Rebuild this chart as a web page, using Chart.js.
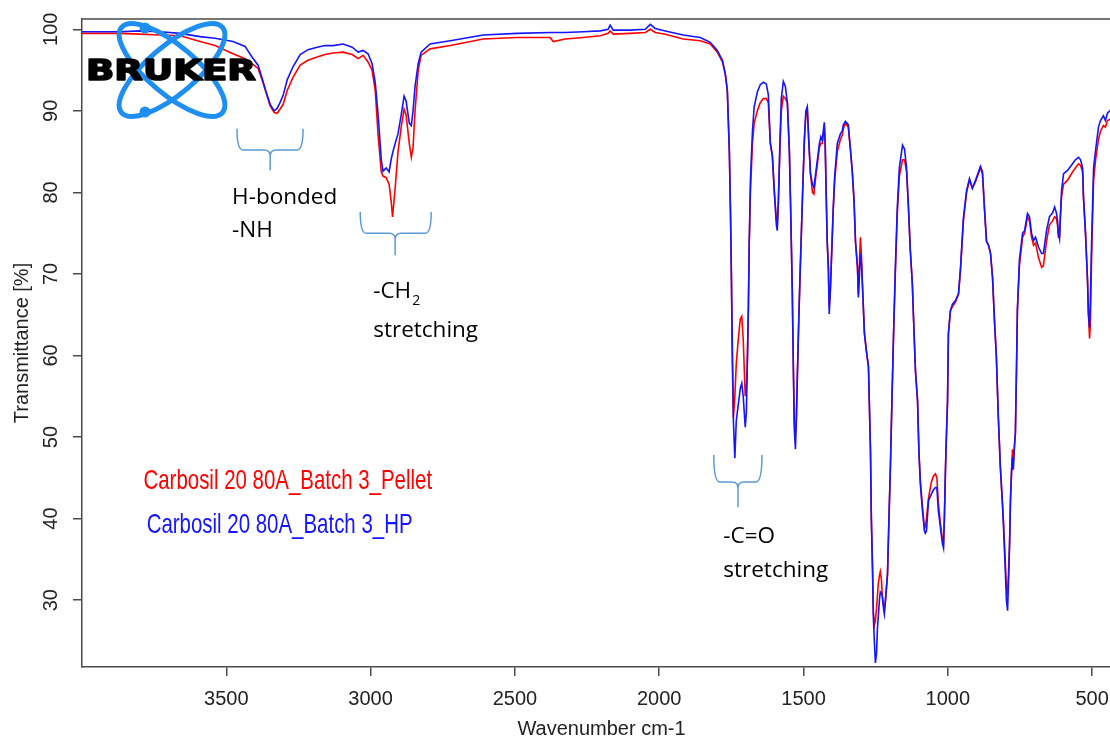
<!DOCTYPE html>
<html>
<head>
<meta charset="utf-8">
<title>FTIR spectrum</title>
<script src="https://cdn.jsdelivr.net/npm/chart.js@4.4.1/dist/chart.umd.min.js"></script>
<style>
html, body { margin: 0; padding: 0; overflow: hidden; background: #fff; }
canvas { display: block; }
</style>
</head>
<body>
<canvas id="irChart" width="1121" height="740"></canvas>
<script>
// wavenumber (cm-1) of every sampled point, shared by both spectra
var wavenumbers = [
    4000, 3938, 3868, 3799, 3730, 3660, 3591, 3539, 3477, 3435,
    3411, 3390, 3376, 3362, 3348, 3334, 3324, 3314, 3303, 3289,
    3269, 3244, 3217, 3185, 3158, 3130, 3095, 3064, 3043, 3026,
    3009, 2995, 2984, 2974, 2963, 2957, 2946, 2936, 2929, 2924,
    2915, 2905, 2894, 2884, 2877, 2866, 2859, 2853, 2846, 2835,
    2825, 2794, 2724, 2610, 2492, 2378, 2367, 2326, 2263, 2204,
    2177, 2170, 2159, 2100, 2048, 2031, 2014, 1979, 1917, 1858,
    1823, 1799, 1781, 1771, 1764, 1757, 1753, 1750, 1747, 1743,
    1738, 1733, 1726, 1719, 1714, 1709, 1702, 1698, 1695, 1691,
    1688, 1684, 1677, 1671, 1660, 1650, 1639, 1629, 1622, 1615,
    1608, 1601, 1594, 1591, 1587, 1582, 1577, 1570, 1563, 1556,
    1549, 1544, 1539, 1535, 1532, 1528, 1525, 1521, 1516, 1511,
    1504, 1497, 1492, 1487, 1482, 1476, 1469, 1464, 1459, 1452,
    1445, 1440, 1435, 1428, 1425, 1421, 1418, 1414, 1411, 1407,
    1404, 1397, 1392, 1383, 1372, 1366, 1362, 1355, 1345, 1338,
    1331, 1325, 1320, 1313, 1310, 1306, 1303, 1299, 1296, 1289,
    1282, 1275, 1268, 1265, 1261, 1258, 1254, 1251, 1247, 1244,
    1241, 1237, 1234, 1230, 1227, 1223, 1220, 1216, 1209, 1204,
    1199, 1194, 1188, 1182, 1175, 1168, 1157, 1150, 1143, 1136,
    1130, 1123, 1119, 1112, 1105, 1100, 1095, 1088, 1081, 1078,
    1074, 1067, 1057, 1050, 1043, 1038, 1033, 1026, 1019, 1015,
    1012, 1008, 1005, 1001, 998, 991, 984, 974, 963, 956,
    946, 935, 925, 915, 904, 894, 887, 880, 873, 866,
    859, 852, 845, 838, 832, 825, 818, 811, 807, 800,
    797, 793, 790, 786, 783, 779, 776, 773, 769, 766,
    762, 759, 752, 741, 734, 724, 717, 710, 703, 696,
    686, 675, 669, 658, 648, 637, 630, 624, 620, 617,
    613, 610, 606, 599, 585, 568, 558, 547, 540, 533,
    530, 523, 516, 513, 509, 506, 502, 495, 488, 478,
    471, 461, 454, 447, 436
];

// transmittance [%], Carbosil 20 80A batch 3 pellet (red)
var pelletT = [
    99.5, 99.5, 99.5, 99.4, 99.3, 99.2, 98.5, 98.0, 97.0, 96.4,
    95.8, 95.2, 93.8, 92.2, 90.6, 89.8, 89.7, 90.2, 90.8, 92.5,
    94.1, 95.6, 96.2, 96.6, 96.9, 97.1, 97.2, 96.9, 96.4, 96.8,
    96.0, 95.0, 92.5, 87.0, 82.5, 82.0, 81.8, 81.0, 79.0, 77.0,
    80.5, 85.0, 88.0, 90.2, 89.5, 86.0, 84.3, 85.5, 90.0, 95.0,
    96.8, 97.6, 98.0, 98.8, 99.0, 99.0, 98.5, 98.8, 99.0, 99.2,
    99.5, 99.8, 99.4, 99.5, 99.6, 100.0, 99.6, 99.4, 98.8, 98.6,
    98.2, 97.2, 96.0, 94.5, 92.5, 85.0, 77.4, 70.0, 60.0, 52.4,
    55.0, 59.0, 62.0, 64.5, 64.8, 62.0, 55.0, 56.0, 58.6, 66.0,
    74.0, 80.0, 86.0, 88.5, 90.0, 91.0, 91.5, 91.5, 91.0, 86.0,
    84.5, 80.0, 76.5, 76.0, 79.0, 85.0, 90.0, 91.8, 91.5, 91.0,
    85.0, 77.0, 68.0, 58.0, 52.0, 50.4, 52.0, 58.0, 65.0, 71.0,
    79.0, 86.5, 89.5, 90.2, 86.5, 82.3, 80.0, 79.8, 81.5, 83.5,
    85.5, 86.0, 86.0, 88.0, 86.0, 79.0, 74.0, 70.8, 66.0, 68.0,
    71.0, 78.0, 81.5, 85.0, 86.5, 87.0, 87.8, 88.5, 88.0, 85.5,
    82.5, 79.0, 74.0, 70.8, 67.5, 71.5, 74.5, 72.0, 68.8, 62.7,
    60.5, 58.6, 48.3, 40.0, 34.0, 28.5, 27.0, 27.5, 29.0, 30.5,
    32.0, 33.0, 33.5, 32.5, 30.5, 29.5, 28.8, 30.0, 33.2, 40.0,
    46.3, 54.0, 62.7, 70.0, 77.5, 82.0, 84.0, 84.0, 82.5, 77.8,
    72.9, 68.8, 64.7, 58.0, 54.5, 48.0, 44.5, 41.5, 38.8, 39.0,
    40.0, 42.5, 44.5, 45.2, 45.5, 45.0, 42.0, 39.5, 37.5, 37.0,
    40.0, 46.3, 50.0, 54.5, 62.7, 65.5, 66.0, 66.5, 67.5, 70.5,
    76.5, 80.0, 81.5, 80.5, 81.3, 82.3, 83.0, 82.3, 78.0, 74.0,
    73.5, 72.5, 69.5, 64.0, 60.0, 52.4, 46.3, 42.0, 39.5, 34.0,
    31.5, 30.9, 33.0, 37.0, 42.2, 46.0, 48.5, 47.0, 49.0, 50.4,
    58.5, 65.5, 71.0, 74.5, 75.0, 77.0, 76.5, 74.5, 73.5, 73.8,
    72.0, 70.8, 71.0, 74.0, 76.0, 76.5, 77.0, 76.8, 76.0, 74.5,
    74.5, 77.0, 79.5, 81.0, 81.5, 82.5, 83.0, 83.5, 83.3, 82.5,
    79.4, 75.0, 69.2, 65.5, 62.1, 64.0, 72.0, 81.5, 84.0, 86.5,
    87.5, 88.2, 88.0, 88.8, 89.0
];

// transmittance [%], Carbosil 20 80A batch 3 HP (blue)
var hpT = [
    99.7, 99.7, 99.7, 99.8, 99.7, 99.5, 99.1, 98.9, 98.5, 97.9,
    96.6, 95.6, 94.0, 92.3, 90.8, 90.0, 90.3, 91.0, 91.9, 93.8,
    95.4, 96.9, 97.5, 97.8, 98.0, 98.0, 98.2, 97.8, 97.2, 97.4,
    97.0, 95.8, 93.5, 89.5, 84.0, 82.6, 83.0, 82.5, 84.0, 84.8,
    86.0, 87.2, 89.5, 91.8, 91.2, 88.5, 88.2, 90.0, 93.0, 95.8,
    97.2, 98.2, 98.6, 99.3, 99.5, 99.6, 99.6, 99.6, 99.7, 99.8,
    100.0, 100.5, 99.9, 99.9, 100.0, 100.6, 100.1, 99.8, 99.3, 99.0,
    98.4, 97.4, 96.2, 94.5, 92.5, 85.0, 77.4, 70.0, 62.0, 52.0,
    47.4, 52.0, 54.0, 56.0, 56.6, 55.0, 51.2, 53.0, 58.6, 66.0,
    74.0, 81.5, 87.5, 90.5, 92.3, 93.2, 93.5, 93.3, 92.0, 86.0,
    84.5, 80.0, 76.0, 75.3, 79.0, 86.0, 91.5, 93.6, 93.0, 91.0,
    85.0, 77.0, 68.0, 58.0, 51.0, 48.5, 52.0, 58.0, 65.0, 71.0,
    79.0, 86.5, 90.0, 90.5, 86.5, 82.3, 81.0, 80.6, 82.0, 84.0,
    86.0, 86.8, 86.4, 88.6, 86.0, 79.0, 74.0, 70.8, 65.1, 68.0,
    71.0, 78.0, 82.0, 86.0, 87.2, 87.5, 88.3, 88.7, 88.3, 85.5,
    82.5, 79.0, 74.0, 70.8, 67.1, 70.0, 72.5, 71.0, 68.8, 62.7,
    60.5, 58.6, 48.3, 40.0, 34.0, 27.8, 24.5, 22.3, 23.5, 26.5,
    28.0, 30.0, 31.0, 30.8, 30.5, 29.0, 28.3, 30.0, 33.2, 40.0,
    46.3, 54.0, 62.7, 70.5, 78.2, 83.0, 85.8, 85.3, 83.0, 77.8,
    72.9, 68.8, 64.7, 58.0, 54.5, 48.0, 44.2, 41.0, 38.5, 38.2,
    38.5, 42.2, 43.0, 43.5, 43.8, 43.8, 41.0, 39.0, 37.0, 36.4,
    40.0, 46.3, 50.0, 54.5, 62.7, 65.5, 66.3, 66.7, 67.6, 70.8,
    76.9, 80.2, 81.7, 80.5, 81.5, 82.5, 83.2, 82.5, 78.0, 74.0,
    73.5, 72.5, 69.5, 64.0, 60.0, 52.4, 46.3, 42.0, 38.9, 32.8,
    30.0, 28.7, 32.0, 37.0, 42.2, 46.0, 47.5, 46.0, 49.0, 50.4,
    58.5, 65.5, 71.7, 75.0, 75.3, 77.4, 77.0, 75.0, 74.1, 74.5,
    73.3, 72.5, 72.5, 75.3, 77.0, 77.5, 78.2, 77.5, 76.6, 75.0,
    74.3, 77.0, 80.2, 82.3, 82.7, 83.5, 84.0, 84.3, 84.0, 83.0,
    79.4, 75.0, 69.2, 65.1, 63.4, 67.0, 73.7, 83.0, 85.2, 88.0,
    88.8, 89.4, 88.8, 89.7, 90.1
];

var xTickValues = [3500, 3000, 2500, 2000, 1500, 1000, 500];
var yTickValues = [30, 40, 50, 60, 70, 80, 90, 100];

var seriesLabels = ['Carbosil 20 80A_Batch 3_Pellet', 'Carbosil 20 80A_Batch 3_HP'];

// band assignments: braces and notes, in wavenumber / transmittance units
var braces = [
    {from: 3463, to: 3234, tip: 3348, top: 87.8, mid: 85.2, end: 82.7},
    {from: 3036, to: 2790, tip: 2915, top: 77.6, mid: 75.0, end: 72.3},
    {from: 1811, to: 1644, tip: 1727, top: 47.8, mid: 44.5, end: 41.4}
];
var notes = [
    {wn: 3480, t: 78.6, text: 'H-bonded'},
    {wn: 3480, t: 74.5, text: '-NH'},
    {wn: 2991, t: 67.0, text: '-CH', sub: '2'},
    {wn: 2991, t: 62.3, text: 'stretching'},
    {wn: 1778, t: 37.0, text: '-C=O'},
    {wn: 1778, t: 32.8, text: 'stretching'}
];
var legendSpots = [{wn: 3787, t: 43.6}, {wn: 3776, t: 38.2}];

var axisColor = '#4a4a4a';
var textColor = '#222';
var braceColor = '#5b9bd5';
var axisFont = '"Liberation Sans", Arial, sans-serif';

function toPoints(values) {
    return wavenumbers.map(function (wn, i) {
        return {x: wn, y: values[i]};
    });
}

function drawBrace(ctx, xs, ys, b) {
    var x1 = xs.getPixelForValue(b.from), x2 = xs.getPixelForValue(b.to);
    var xt = xs.getPixelForValue(b.tip);
    var yTop = ys.getPixelForValue(b.top), yMid = ys.getPixelForValue(b.mid);
    var yEnd = ys.getPixelForValue(b.end);
    var r = 6;
    ctx.beginPath();
    ctx.moveTo(x1, yTop);
    ctx.quadraticCurveTo(x1, yMid, x1 + r, yMid);
    ctx.lineTo(xt - r, yMid);
    ctx.quadraticCurveTo(xt, yMid, xt, yMid + r);
    ctx.lineTo(xt, yEnd);
    ctx.moveTo(x2, yTop);
    ctx.quadraticCurveTo(x2, yMid, x2 - r, yMid);
    ctx.lineTo(xt + r, yMid);
    ctx.quadraticCurveTo(xt, yMid, xt, yMid + r);
    ctx.stroke();
}

function drawLogo(ctx) {
    ctx.save();
    ctx.strokeStyle = '#1e8ff0';
    ctx.fillStyle = '#1e8ff0';
    ctx.lineWidth = 5;
    [0.7, -0.7].forEach(function (rot) {
        ctx.beginPath();
        ctx.ellipse(172, 70, 66, 24, rot, 0, Math.PI * 2);
        ctx.stroke();
    });
    [[145, 28], [145, 112]].forEach(function (p) {
        ctx.beginPath();
        ctx.arc(p[0], p[1], 5.5, 0, Math.PI * 2);
        ctx.fill();
    });
    ctx.font = 'bold 28px "DejaVu Sans", sans-serif';
    var w = ctx.measureText('BRUKER').width;
    ctx.translate(86, 79.5);
    ctx.scale(170 / w, 1);
    ctx.fillStyle = '#000';
    ctx.strokeStyle = '#000';
    ctx.lineWidth = 1.6;
    ctx.lineJoin = 'round';
    ctx.textBaseline = 'alphabetic';
    ctx.fillText('BRUKER', 0, 0);
    ctx.strokeText('BRUKER', 0, 0);
    ctx.restore();
}

var decorPlugin = {
    id: 'spectrumDecor',
    afterDraw: function (chart) {
        var ctx = chart.ctx, area = chart.chartArea;
        var xs = chart.scales.x, ys = chart.scales.y;
        ctx.save();

        // box top line
        ctx.strokeStyle = axisColor;
        ctx.lineWidth = 1.5;
        ctx.beginPath();
        ctx.moveTo(area.left, area.top);
        ctx.lineTo(area.right, area.top);
        ctx.stroke();

        // y tick labels, written along the axis
        ctx.fillStyle = textColor;
        ctx.font = '20px ' + axisFont;
        ctx.textAlign = 'center';
        ctx.textBaseline = 'middle';
        ys.ticks.forEach(function (t) {
            ctx.save();
            ctx.translate(51, ys.getPixelForValue(t.value));
            ctx.rotate(-Math.PI / 2);
            ctx.fillText(String(t.value), 0, 0);
            ctx.restore();
        });

        // legend text inside the plot
        ctx.textAlign = 'left';
        ctx.textBaseline = 'alphabetic';
        ctx.font = '28px ' + axisFont;
        chart.data.datasets.forEach(function (ds, i) {
            var spot = legendSpots[i];
            ctx.save();
            ctx.translate(xs.getPixelForValue(spot.wn), ys.getPixelForValue(spot.t));
            ctx.scale(0.73, 1);
            ctx.fillStyle = ds.borderColor;
            ctx.fillText(ds.label, 0, 0);
            ctx.restore();
        });

        // braces + notes
        ctx.strokeStyle = braceColor;
        ctx.lineWidth = 1.5;
        braces.forEach(function (b) { drawBrace(ctx, xs, ys, b); });

        ctx.fillStyle = '#000';
        notes.forEach(function (n) {
            var x = xs.getPixelForValue(n.wn), y = ys.getPixelForValue(n.t);
            ctx.font = '22.5px "Open Sans", sans-serif';
            ctx.fillText(n.text, x, y);
            if (n.sub) {
                var w = ctx.measureText(n.text).width;
                ctx.font = '14px "Open Sans", sans-serif';
                ctx.fillText(n.sub, x + w + 1, y + 7);
            }
        });

        drawLogo(ctx);
        ctx.restore();
    }
};

var ctx = document.getElementById('irChart').getContext('2d');

var irChart = new Chart(ctx, {
    type: 'line',
    data: {
        datasets: [
            {
                label: seriesLabels[0],
                data: toPoints(pelletT),
                borderColor: '#ff0000',
                borderWidth: 1.6,
                pointRadius: 0,
                tension: 0,
                order: 1
            },
            {
                label: seriesLabels[1],
                data: toPoints(hpT),
                borderColor: '#1414ff',
                borderWidth: 1.6,
                pointRadius: 0,
                tension: 0,
                order: 0
            }
        ]
    },
    options: {
        responsive: false,
        animation: false,
        devicePixelRatio: 1,
        layout: {padding: {top: 19, left: 0, right: 0, bottom: 0}},
        plugins: {
            legend: {display: false},
            tooltip: {enabled: false}
        },
        scales: {
            x: {
                type: 'linear',
                reverse: true,
                min: 400,
                max: 4000,
                afterBuildTicks: function (scale) {
                    scale.ticks = xTickValues.map(function (v) { return {value: v}; });
                },
                afterFit: function (scale) {
                    scale.height = 73;
                    scale.paddingLeft = 0;
                    scale.paddingRight = 0;
                },
                ticks: {
                    autoSkip: false,
                    maxRotation: 0,
                    padding: 11,
                    color: textColor,
                    font: {size: 20},
                    callback: function (v) { return String(v); }
                },
                grid: {
                    drawOnChartArea: false,
                    drawTicks: true,
                    tickLength: 9,
                    color: axisColor,
                    lineWidth: 1.5
                },
                border: {display: true, color: axisColor, width: 1.5},
                title: {
                    display: true,
                    text: 'Wavenumber cm-1',
                    color: textColor,
                    font: {size: 20, lineHeight: 1},
                    padding: {top: 0, bottom: 1}
                }
            },
            y: {
                min: 21.8,
                max: 101.26,
                afterBuildTicks: function (scale) {
                    scale.ticks = yTickValues.map(function (v) { return {value: v}; });
                },
                afterFit: function (scale) {
                    scale.width = 82;
                    scale.paddingTop = 0;
                    scale.paddingBottom = 0;
                },
                ticks: {display: false},
                grid: {
                    drawOnChartArea: false,
                    drawTicks: true,
                    tickLength: 9,
                    color: axisColor,
                    lineWidth: 1.5
                },
                border: {display: true, color: axisColor, width: 1.5},
                title: {
                    display: true,
                    text: 'Transmittance [%]',
                    color: textColor,
                    font: {size: 20},
                    padding: {top: 10, bottom: 0}
                }
            }
        }
    },
    plugins: [decorPlugin]
});

Chart.defaults.font.family = axisFont;
</script>
</body>
</html>
